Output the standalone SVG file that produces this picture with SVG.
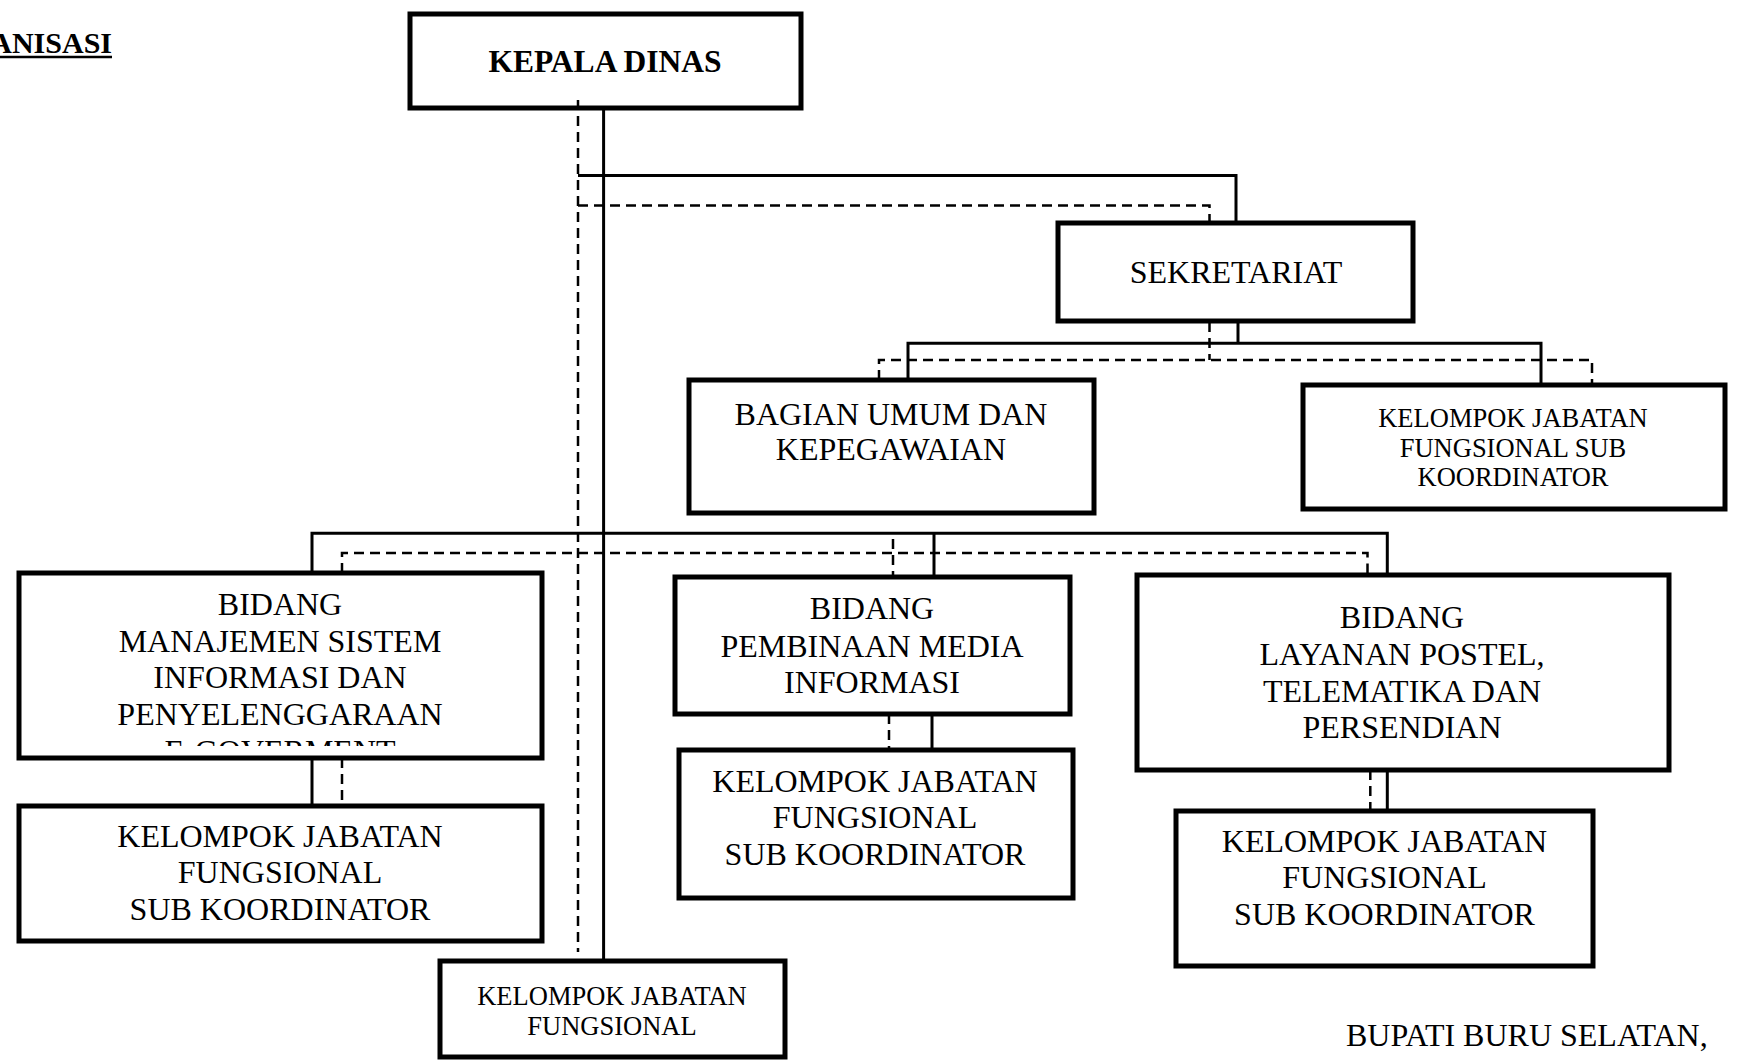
<svg xmlns="http://www.w3.org/2000/svg" width="1741" height="1061" viewBox="0 0 1741 1061">
  <style>
    .box { fill: #ffffff; stroke: #000000; stroke-width: 5; }
    .solid { fill: none; stroke: #000000; stroke-width: 3; }
    .dash { fill: none; stroke: #000000; stroke-width: 2.5; stroke-dasharray: 10 6; }
    .t { font-family: "Liberation Serif", "Times New Roman", serif; font-size: 32px; fill: #000000; text-anchor: middle; }
    .ts { font-family: "Liberation Serif", "Times New Roman", serif; font-size: 26.5px; fill: #000000; text-anchor: middle; }
    .tb { font-family: "Liberation Serif", "Times New Roman", serif; font-size: 31.5px; font-weight: bold; fill: #000000; text-anchor: middle; }
  </style>
  <defs>
    <clipPath id="clip-msi">
      <rect x="20" y="575" width="520" height="171"/>
    </clipPath>
  </defs>
  <rect width="1741" height="1061" fill="#ffffff"/>

  <!-- heading (cut at the left edge) -->
  <g id="heading">
    <text x="112" y="52.7" font-family="'Liberation Serif', 'Times New Roman', serif" font-size="30" font-weight="bold" text-anchor="end">ANISASI</text>
    <line x1="0" y1="57" x2="112" y2="57" stroke="#000000" stroke-width="2.5"/>
  </g>

  <!-- nodes -->
  <g id="kepala-dinas">
    <rect class="box" x="410" y="14" width="391" height="94"/>
    <text class="tb" x="605" y="71.7">KEPALA DINAS</text>
  </g>

  <g id="sekretariat">
    <rect class="box" x="1058" y="223" width="355" height="98"/>
    <text class="t" x="1236" y="282.7">SEKRETARIAT</text>
  </g>

  <g id="bagian-umum">
    <rect class="box" x="689" y="380" width="405" height="133"/>
    <text class="t" x="891" y="425">BAGIAN UMUM DAN</text>
    <text class="t" x="891" y="460">KEPEGAWAIAN</text>
  </g>

  <g id="kjf-sekretariat">
    <rect class="box" x="1303" y="385" width="422" height="124"/>
    <text class="ts" x="1513" y="426.7">KELOMPOK JABATAN</text>
    <text class="ts" x="1513" y="456.7">FUNGSIONAL SUB</text>
    <text class="ts" x="1513" y="486">KOORDINATOR</text>
  </g>

  <g id="bidang-msi">
    <rect class="box" x="19" y="573" width="523" height="185"/>
    <g clip-path="url(#clip-msi)">
      <text class="t" x="280" y="615">BIDANG</text>
      <text class="t" x="280" y="651.7">MANAJEMEN SISTEM</text>
      <text class="t" x="280" y="688.3">INFORMASI DAN</text>
      <text class="t" x="280" y="725">PENYELENGGARAAN</text>
      <text class="t" x="280" y="761.7">E-GOVERMENT</text>
    </g>
  </g>

  <g id="kjf-msi">
    <rect class="box" x="19" y="806" width="523" height="135"/>
    <text class="t" x="280" y="846.7">KELOMPOK JABATAN</text>
    <text class="t" x="280" y="883.3">FUNGSIONAL</text>
    <text class="t" x="280" y="920">SUB KOORDINATOR</text>
  </g>

  <g id="bidang-pmi">
    <rect class="box" x="675" y="577" width="395" height="137"/>
    <text class="t" x="872" y="619.3">BIDANG</text>
    <text class="t" x="872" y="656.7">PEMBINAAN MEDIA</text>
    <text class="t" x="872" y="693.3">INFORMASI</text>
  </g>

  <g id="kjf-pmi">
    <rect class="box" x="679" y="750" width="394" height="148"/>
    <text class="t" x="875" y="791.7">KELOMPOK JABATAN</text>
    <text class="t" x="875" y="828.3">FUNGSIONAL</text>
    <text class="t" x="875" y="865">SUB KOORDINATOR</text>
  </g>

  <g id="bidang-postel">
    <rect class="box" x="1137" y="575" width="532" height="195"/>
    <text class="t" x="1402" y="628.3">BIDANG</text>
    <text class="t" x="1402" y="665">LAYANAN POSTEL,</text>
    <text class="t" x="1402" y="701.7">TELEMATIKA DAN</text>
    <text class="t" x="1402" y="738.3">PERSENDIAN</text>
  </g>

  <g id="kjf-postel">
    <rect class="box" x="1176" y="811" width="417" height="155"/>
    <text class="t" x="1384.5" y="851.7">KELOMPOK JABATAN</text>
    <text class="t" x="1384.5" y="888.3">FUNGSIONAL</text>
    <text class="t" x="1384.5" y="925">SUB KOORDINATOR</text>
  </g>

  <g id="kjf-dinas">
    <rect class="box" x="440" y="961" width="345" height="96"/>
    <text class="ts" x="612" y="1005">KELOMPOK JABATAN</text>
    <text class="ts" x="612" y="1035">FUNGSIONAL</text>
  </g>

  <g id="signature">
    <text x="1346" y="1046" font-family="'Liberation Serif', 'Times New Roman', serif" font-size="32">BUPATI BURU SELATAN,</text>
  </g>

  <!-- connectors: solid = command line, dashed = coordination line -->
  <g id="connectors">
    <!-- trunk from Kepala Dinas -->
    <path class="solid" d="M603.6 109 V961"/>
    <path class="dash" d="M578 100 V952"/>

    <!-- to Sekretariat -->
    <path class="solid" d="M578 175.4 H1236 V223"/>
    <path class="dash" d="M578 205.4 H1209.5 V223"/>

    <!-- Sekretariat to its units -->
    <path class="solid" d="M1238 321 V343.3"/>
    <path class="solid" d="M908 380 V343.3 H1541 V385"/>
    <path class="dash" d="M1209.5 322 V360"/>
    <path class="dash" d="M879 380 V360 H1592 V385"/>

    <!-- to the three Bidang -->
    <path class="solid" d="M312 573 V533.3 H1387.3 V575"/>
    <path class="solid" d="M934 533.3 V577"/>
    <path class="dash" d="M342 573 V553 H1367.5 V575"/>
    <path class="dash" d="M893 539 V577"/>

    <!-- Bidang to their functional groups -->
    <path class="solid" d="M312 758 V806"/>
    <path class="dash" d="M342 758 V806"/>
    <path class="solid" d="M932 714 V751"/>
    <path class="dash" d="M889 714 V750"/>
    <path class="solid" d="M1387.3 770 V811"/>
    <path class="dash" d="M1370.3 770 V811"/>
  </g>
</svg>
